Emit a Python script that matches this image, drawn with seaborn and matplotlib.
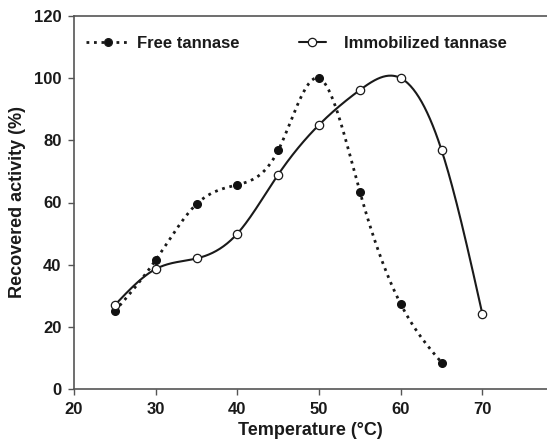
import numpy as np
import pandas as pd
import matplotlib
matplotlib.use("Agg")
import matplotlib.pyplot as plt
from matplotlib.lines import Line2D
import seaborn as sns

# ---- data ----
temperature_free = [25, 30, 35, 40, 45, 50, 55, 60, 65]
activity_free = [25.0, 41.5, 59.5, 65.7, 76.8, 100.0, 63.4, 27.3, 8.5]
temperature_imm = [25, 30, 35, 40, 45, 50, 55, 60, 65, 70]
activity_imm = [27.0, 38.6, 42.0, 50.0, 69.0, 85.0, 96.2, 100.0, 76.8, 24.0]
label_free = "Free tannase"
label_imm = "Immobilized tannase"
x_ticks = [20, 30, 40, 50, 60, 70]
y_ticks = [0, 20, 40, 60, 80, 100, 120]


def natural_spline(x, y, n=400):
    """Smooth rendering curve (natural cubic spline) through the data points."""
    x = np.asarray(x, float)
    y = np.asarray(y, float)
    k = len(x)
    h = np.diff(x)
    A = np.zeros((k, k))
    b = np.zeros(k)
    A[0, 0] = A[-1, -1] = 1.0
    for i in range(1, k - 1):
        A[i, i - 1] = h[i - 1]
        A[i, i] = 2 * (h[i - 1] + h[i])
        A[i, i + 1] = h[i]
        b[i] = 6 * ((y[i + 1] - y[i]) / h[i] - (y[i] - y[i - 1]) / h[i - 1])
    M = np.linalg.solve(A, b)
    xs = np.linspace(x[0], x[-1], n)
    idx = np.clip(np.searchsorted(x, xs) - 1, 0, k - 2)
    x0, x1 = x[idx], x[idx + 1]
    hh = x1 - x0
    t0 = x1 - xs
    t1 = xs - x0
    ys = (M[idx] * t0**3 / (6 * hh) + M[idx + 1] * t1**3 / (6 * hh)
          + (y[idx] / hh - M[idx] * hh / 6) * t0
          + (y[idx + 1] / hh - M[idx + 1] * hh / 6) * t1)
    return xs, ys


sns.set_theme(style="ticks")
plt.rcParams["font.family"] = ["Liberation Sans", "DejaVu Sans"]
plt.rcParams["font.weight"] = "bold"

fig = plt.figure(figsize=(5.47, 4.46), dpi=100)
ax = fig.add_axes([74 / 547, 1 - 389 / 446, 1 - 74 / 547, (389 - 16) / 446])

xf, yf = natural_spline(temperature_free, activity_free)
xi, yi = natural_spline(temperature_imm, activity_imm)

dot_style = (0, (1, 1.7))
sns.lineplot(x=xf, y=yf, ax=ax, color="#1a1a1a", linewidth=2.0,
             linestyle=dot_style, sort=False, legend=False)
sns.lineplot(x=xi, y=yi, ax=ax, color="#1a1a1a", linewidth=1.5,
             sort=False, legend=False)

ax.plot(temperature_free, activity_free, linestyle="none", marker="o",
        markersize=5.5, color="#111111", zorder=4)
ax.plot(temperature_imm, activity_imm, linestyle="none", marker="o",
        markersize=6, markerfacecolor="white", markeredgecolor="#1a1a1a",
        markeredgewidth=0.9, zorder=5)

ax.set_xlim(20, 77.9)
ax.set_ylim(0, 120)
ax.set_xticks(x_ticks)
ax.set_yticks(y_ticks)
ax.set_xlabel("Temperature (°C)", fontsize=13, fontweight="bold", color="#1a1a1a", labelpad=4)
ax.set_ylabel("Recovered activity (%)", fontsize=13, fontweight="bold", color="#1a1a1a", labelpad=6)
ax.tick_params(axis="both", direction="out", length=4, width=1.0, color="#555555",
               labelsize=12, labelcolor="#1a1a1a", pad=5)
for lab in ax.get_xticklabels() + ax.get_yticklabels():
    lab.set_fontweight("bold")
for side in ["left", "bottom", "top"]:
    ax.spines[side].set_color("#555555")
    ax.spines[side].set_linewidth(1.2)
ax.spines["right"].set_visible(False)

h_free = Line2D([], [], color="#1a1a1a", linewidth=2.0, linestyle=dot_style,
                marker="o", markersize=5.5, markerfacecolor="#111111")
h_imm = Line2D([], [], color="#1a1a1a", linewidth=1.5, marker="o", markersize=6,
               markerfacecolor="white", markeredgewidth=0.9)

leg1 = fig.legend([h_free], [label_free], loc="center left",
                  bbox_to_anchor=(86 / 547, 1 - 43 / 446), frameon=False,
                  borderpad=0, borderaxespad=0, handlelength=2.6, handletextpad=0.45,
                  prop={"weight": "bold", "size": 12})
leg2 = fig.legend([h_imm], [label_imm], loc="center left",
                  bbox_to_anchor=(299 / 547, 1 - 43 / 446), frameon=False,
                  borderpad=0, borderaxespad=0, handlelength=1.6, handletextpad=1.1,
                  prop={"weight": "bold", "size": 12})
for leg in (leg1, leg2):
    for t in leg.get_texts():
        t.set_color("#1a1a1a")

fig.savefig("out.png", dpi=100)
